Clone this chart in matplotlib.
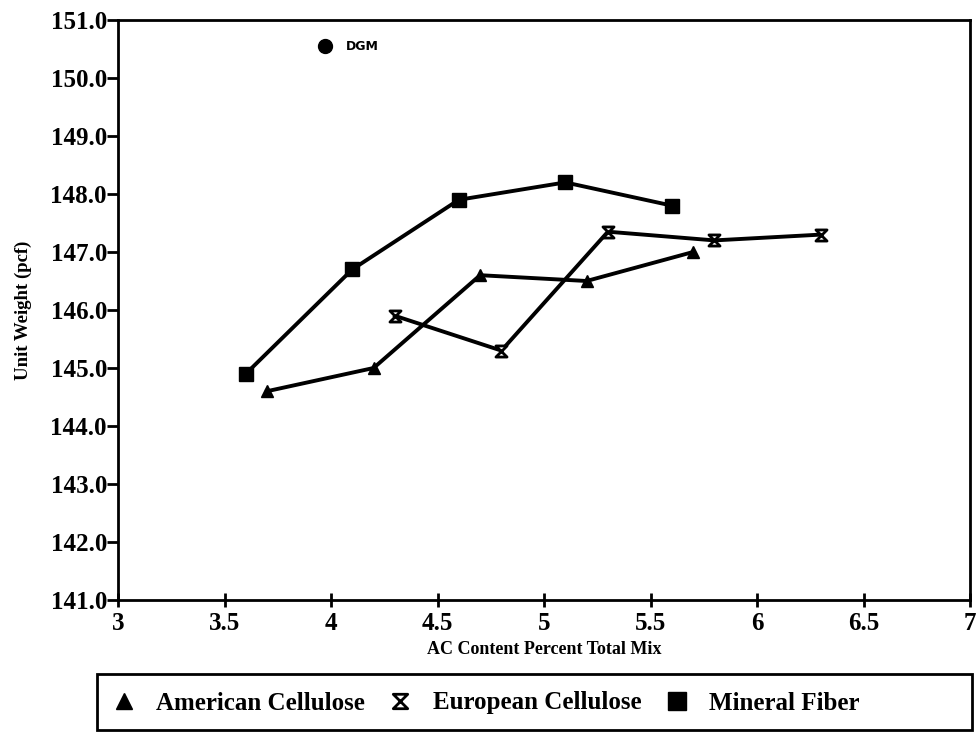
import numpy as np
import matplotlib.pyplot as plt
from matplotlib.path import Path
from matplotlib.patches import Rectangle

plt.rcParams['font.family'] = ['Liberation Serif', 'DejaVu Serif']
plt.rcParams['font.weight'] = 'bold'

# data
amer_x = [3.7, 4.2, 4.7, 5.2, 5.7]
amer_y = [144.6, 145.0, 146.6, 146.5, 147.0]
euro_x = [4.3, 4.8, 5.3, 5.8, 6.3]
euro_y = [145.9, 145.3, 147.35, 147.2, 147.3]
mine_x = [3.6, 4.1, 4.6, 5.1, 5.6]
mine_y = [144.9, 146.7, 147.9, 148.2, 147.8]
dgm_x = [3.97]
dgm_y = [150.55]

xticks = [3, 3.5, 4, 4.5, 5, 5.5, 6, 6.5, 7]
xtick_labels = ['3', '3.5', '4', '4.5', '5', '5.5', '6', '6.5', '7']
yticks = np.arange(141.0, 151.5, 1.0)

hourglass = Path([(-1, 1), (1, 1), (-1, -1), (1, -1), (-1, 1)],
                 [Path.MOVETO, Path.LINETO, Path.LINETO, Path.LINETO, Path.CLOSEPOLY])

fig = plt.figure(figsize=(9.76, 7.32), dpi=100)
ax = fig.add_axes([118/976, 1 - 600/732, (970-118)/976, (600-20)/732])

ax.plot(amer_x, amer_y, color='black', lw=2.8, marker='^', ms=9,
        label='American Cellulose')
ax.plot(euro_x, euro_y, color='black', lw=2.8, marker=hourglass, ms=8,
        mfc='white', mec='black', mew=2, label='European Cellulose')
ax.plot(mine_x, mine_y, color='black', lw=2.8, marker='s', ms=10,
        label='Mineral Fiber')
ax.plot(dgm_x, dgm_y, 'o', color='black', ms=10)
ax.text(dgm_x[0] + 0.1, dgm_y[0], 'DGM', fontsize=9, family='DejaVu Sans',
        fontweight='bold', va='center')

ax.set_xlim(3, 7)
ax.set_ylim(141, 151)
ax.set_xticks(xticks)
ax.set_xticklabels(xtick_labels, fontsize=18)
ax.set_yticks(yticks)
ax.set_yticklabels(['%.1f' % v for v in yticks], fontsize=18)
ax.tick_params(axis='y', direction='out', length=8, width=2, pad=0)
ax.tick_params(axis='x', direction='inout', length=10, width=2, pad=4)
for s in ax.spines.values():
    s.set_linewidth(2)
ax.set_xlabel('AC Content Percent Total Mix', fontsize=13, fontweight='bold', labelpad=4)
ax.set_ylabel('Unit Weight (pcf)', fontsize=13.5, fontweight='bold', labelpad=13)

# legend box
fig.patches.append(Rectangle((97/976, 2/732), 875/976, 56/732, transform=fig.transFigure,
                             fill=False, edgecolor='black', lw=2))
leg = fig.legend(loc='center', bbox_to_anchor=(488/976, 29/732), ncol=3,
                 fontsize=18, frameon=False, handlelength=0.6, handletextpad=1.0,
                 columnspacing=1.1, markerscale=1.3)
for h in leg.legend_handles:
    h.set_linestyle('none')

fig.savefig('out.png', dpi=100)
